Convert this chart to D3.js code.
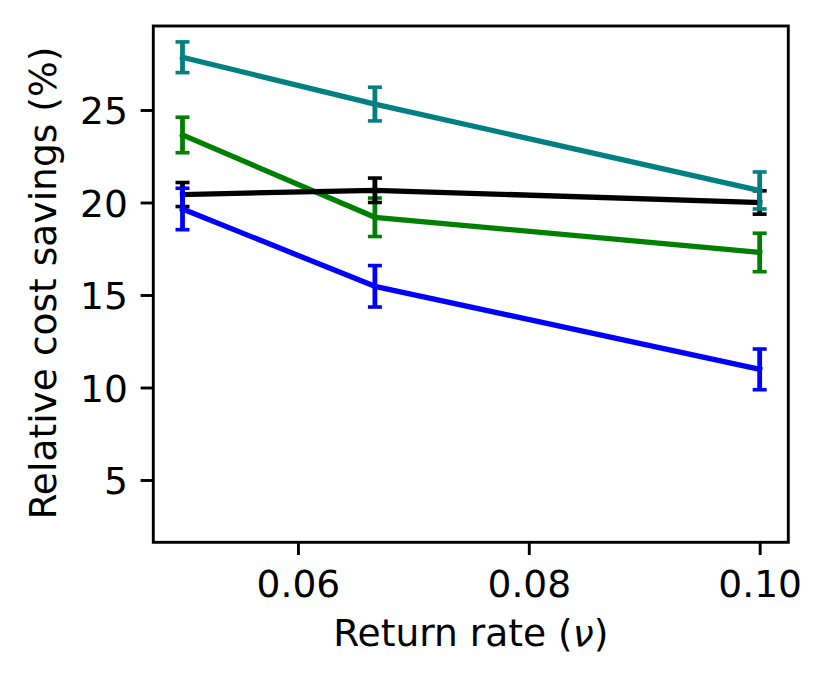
<!DOCTYPE html>
<html>
<head>
<meta charset="utf-8">
<script src="https://cdn.jsdelivr.net/npm/d3@7"></script>
<style>
  body { margin: 0; background: #fff; }
  svg text { font-family: "DejaVu Sans", sans-serif; fill: #000; }
</style>
</head>
<body>
<svg id="chart" width="829" height="686"></svg>
<script>
// return rates on the x axis
const rates = [0.05, 1 / 15, 0.10];

// relative cost savings (%) and their error half-widths, one pair per curve
const tealVals = [27.85, 25.32, 20.65];
const tealErr = [0.83, 0.91, 1.0];
const greenVals = [23.65, 19.2, 17.3];
const greenErr = [0.96, 1.04, 1.04];
const blackVals = [20.43, 20.66, 20.0];
const blackErr = [0.65, 0.66, 0.63];
const blueVals = [19.65, 15.47, 10.98];
const blueErr = [1.12, 1.12, 1.1];

const xTicks = [0.06, 0.08, 0.10];
const yTicks = [5, 10, 15, 20, 25];

// draw order matters: later curves sit on top
const series = [
  { vals: greenVals, err: greenErr, color: '#008000' },
  { vals: blackVals, err: blackErr, color: '#000000' },
  { vals: blueVals, err: blueErr, color: '#0000ff' },
  { vals: tealVals, err: tealErr, color: '#008080' }
];

const box = { left: 153.3, right: 788.3, top: 26, bottom: 542.3 };
const FONT = 37.6;
const TICK = 12.7;

const svg = d3.select('#chart');

const x = d3.scaleLinear().domain([0.04747, 0.10248]).range([box.left, box.right]);
const y = d3.scaleLinear().domain([1.632, 29.54]).range([box.bottom, box.top]);

// axes
const xAxis = d3.axisBottom(x).tickValues(xTicks).tickFormat(d3.format('.2f'))
  .tickSize(TICK).tickPadding(12.5);
const yAxis = d3.axisLeft(y).tickValues(yTicks).tickFormat(d3.format('d'))
  .tickSize(TICK).tickPadding(12.8);

const gx = svg.append('g').attr('transform', `translate(0,${box.bottom})`).call(xAxis);
const gy = svg.append('g').attr('transform', `translate(${box.left},0)`).call(yAxis);
[gx, gy].forEach(g => {
  g.select('.domain').remove();
  g.selectAll('.tick line').attr('stroke', '#000').attr('stroke-width', 2.9);
  g.selectAll('.tick text').style('font-size', FONT + 'px').attr('fill', '#000');
});
gx.selectAll('.tick text').attr('dy', null).attr('y', 0)
  .attr('transform', `translate(0,${597 - box.bottom})`);
gy.selectAll('.tick text').attr('dy', '0.36em');

// curves
const line = d3.line().x((d, i) => x(rates[i])).y(d => y(d));
const plot = svg.append('g');

series.forEach(s => {
  const g = plot.append('g');
  const pts = s.vals.map((v, i) => ({ x: x(rates[i]), lo: y(v - s.err[i]), hi: y(v + s.err[i]) }));

  g.selectAll('line.bar').data(pts).join('line')
    .attr('class', 'bar')
    .attr('x1', d => d.x).attr('x2', d => d.x)
    .attr('y1', d => d.lo).attr('y2', d => d.hi)
    .attr('stroke', s.color).attr('stroke-width', 4.8);

  const caps = pts.flatMap(d => [{ x: d.x, y: d.lo }, { x: d.x, y: d.hi }]);
  g.selectAll('line.cap').data(caps).join('line')
    .attr('class', 'cap')
    .attr('x1', d => d.x - 7).attr('x2', d => d.x + 7)
    .attr('y1', d => d.y).attr('y2', d => d.y)
    .attr('stroke', s.color).attr('stroke-width', 3.6);

  g.append('path')
    .attr('d', line(s.vals))
    .attr('fill', 'none')
    .attr('stroke', s.color)
    .attr('stroke-width', 5.3)
    .attr('stroke-linejoin', 'round')
    .attr('stroke-linecap', 'square');
});

// frame
svg.append('rect')
  .attr('x', box.left).attr('y', box.top)
  .attr('width', box.right - box.left).attr('height', box.bottom - box.top)
  .attr('fill', 'none').attr('stroke', '#000').attr('stroke-width', 2.9);

// axis labels
const xl = svg.append('text')
  .attr('x', (box.left + box.right) / 2).attr('y', 646)
  .attr('text-anchor', 'middle').style('font-size', FONT + 'px');
xl.append('tspan').text('Return rate (');
xl.append('tspan').style('font-style', 'italic').text('ν');
xl.append('tspan').text(')');

svg.append('text')
  .attr('transform', `translate(56,${(box.top + box.bottom) / 2 - 1}) rotate(-90)`)
  .attr('text-anchor', 'middle').style('font-size', FONT + 'px')
  .text('Relative cost savings (%)');
</script>
</body>
</html>
